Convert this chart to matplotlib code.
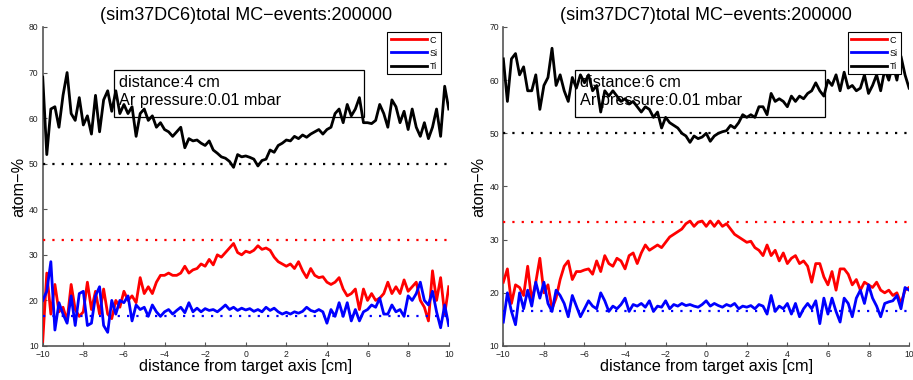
import numpy as np
import matplotlib
matplotlib.use('Agg')
import matplotlib.pyplot as plt
from matplotlib.patches import Rectangle

plt.rcParams['font.family'] = ['Liberation Sans', 'DejaVu Sans']

# target sample, composition (atom-%), x = -10..10 cm step 0.2
titles = ['(sim37DC6)total MC\u2212events:200000', '(sim37DC7)total MC\u2212events:200000']
infos = [['distance:4 cm', 'Ar pressure:0.01 mbar'], ['distance:6 cm', 'Ar pressure:0.01 mbar']]
ylims = [(10, 80), (10, 70)]
stoich = [33.33, 16.67, 50.0]   # C, Si, Ti nominal
names = ['C', 'Si', 'Ti']

c_dc6 = [11, 26, 17, 23.5, 17.5, 18.5, 15.5, 23.5, 18, 16.5,
         17.5, 24, 18, 22, 17, 22.5, 17, 16, 20, 18.5,
         22, 20, 21, 19.5, 25, 21.5, 23, 21.5, 24, 25.5,
         25.5, 26, 25.5, 25.5, 26, 27.5, 26, 26.7, 27, 28,
         27.5, 29, 27.8, 30, 29.5, 30.5, 31.5, 32.5, 30.5, 30,
         30.8, 30.5, 31, 32, 31.2, 31.5, 31, 29.5, 28.5, 28,
         27.5, 28, 27, 28.5, 26.5, 25, 27, 25.5, 25, 25.2,
         24, 23.5, 24, 25, 22.5, 21, 21.5, 22.5, 18, 22.5,
         20, 21.5, 20, 20.5, 21.5, 24, 21.5, 23, 21.5, 24.5,
         22, 23, 24, 20, 18.5, 15.5, 26.5, 20, 25, 17,
         23]
si_dc6 = [20, 22, 28.5, 13.5, 19.5, 17, 15, 21, 14.5, 21.5,
          22, 14.5, 15, 21, 23, 14.5, 13, 20, 17, 20,
          19.5, 21, 15.5, 19, 18, 18.5, 16.5, 19, 17.5, 16.5,
          17.5, 18, 17, 17.8, 18.5, 17.3, 19.5, 17.5, 18.3, 17.5,
          18.2, 17.8, 18, 17.5, 18.2, 19, 18, 18.5, 17.8, 18.3,
          17.9, 18.2, 17.6, 18, 17.5, 18.5, 17.8, 18.3, 17.5, 17,
          17.4, 17, 17.5, 17.2, 17.6, 18.5, 17.8, 17.5, 18, 17.5,
          15, 18, 16.5, 19.5, 16.5, 19.5, 15.5, 18, 15.5, 17.5,
          18, 19, 18.5, 20.5, 17, 17, 19, 17.5, 18, 16.5,
          21, 20, 21.5, 24, 20, 19, 22, 17.5, 14, 19,
          14.5]
ti_dc6 = [69, 52, 62, 62.5, 58, 65, 70, 61, 59.5, 64.5,
          58.5, 60.5, 56.5, 65, 57, 64, 66, 61.5, 66, 61,
          63, 61, 62.5, 56, 61, 62, 59.5, 60.5, 58, 59,
          57.5, 57, 56, 57, 58, 53.5, 55.5, 55, 55.2, 54.5,
          54, 55, 53, 52.3, 51.5, 51.2, 50.5, 49.2, 52, 51.5,
          51.7, 51.4, 51, 49.5, 50.7, 51, 53, 52.5, 54, 54.5,
          55.2, 55, 56, 55.5, 56.3, 55.8, 56.5, 57, 57.5, 56.5,
          57.5, 58, 61, 62, 59, 63, 60.5, 62, 64.5, 59,
          59, 58.8, 59.5, 63, 61, 58, 64, 62.5, 59, 61.5,
          57.5, 62, 58, 56, 59, 55.5, 58, 62, 56, 67,
          62]

c_dc7 = [22, 24.5, 18, 21.5, 21, 19.5, 25, 18.5, 22, 26.5,
         20, 21.5, 17, 19, 22.5, 25, 26, 22.5, 24, 24,
         24.3, 24.5, 23.5, 26, 24, 27, 25.5, 25, 26.5, 26,
         24.5, 27, 27.5, 25.5, 27.5, 29, 28, 28.5, 29, 28.5,
         29.5, 30.5, 31, 31.5, 32, 33, 33.5, 32.5, 33.3, 33.5,
         32.5, 33.5, 32.5, 33.5, 32.5, 33, 32, 31, 30.5, 30,
         29.5, 29.7, 28.5, 28, 27, 29, 27, 28, 26, 27.5,
         25.5, 26.5, 27, 25.5, 26, 25, 22, 25.5, 25.5, 23,
         21.5, 24, 20.5, 24.5, 24.5, 23.5, 21.5, 22.5, 20.5, 22,
         21.5, 21, 22, 20.5, 20, 20.5, 19.5, 20, 18, 20.5,
         21]
si_dc7 = [14.5, 20, 16.5, 14, 20, 17, 20.5, 17.5, 22, 19,
          22, 18, 16.5, 20.5, 19.5, 18, 15.5, 19.5, 17.5, 15.5,
          17, 18.5, 17.5, 17, 20, 18.5, 16.5, 17.5, 17, 17.8,
          19, 16.5, 17.8, 17.5, 18, 17.3, 18.5, 16.5, 17.5, 17.3,
          18.5, 17, 17.8, 17.5, 18, 17.6, 17.8, 17.5, 17.3, 17.8,
          18.5, 17.5, 18, 17.6, 17.3, 17.8, 17.5, 18, 17, 17.5,
          17.3, 17.6, 17, 17.8, 17.5, 16, 19.5, 16.5, 17.5, 17,
          18, 16, 18, 15.5, 17, 18, 17, 18.5, 14.2, 19,
          16, 19, 16.5, 14.5, 19, 18, 15.5, 19, 20.5, 18,
          21.5, 19, 17.5, 15.5, 18, 18.3, 18.5, 19.5, 17, 21,
          20.5]
ti_dc7 = [64, 56, 64, 65, 61, 62.5, 58, 58, 61, 54.5,
          59, 60.5, 66, 59, 61, 58, 56, 60.5, 58.5, 61,
          59.5, 61, 58, 59, 54, 58, 57, 58, 57, 56,
          56.5, 55.5, 56, 55, 54, 55, 54.5, 53, 54, 51,
          53, 52, 51.5, 51, 50, 49.5, 48.3, 49.5, 49, 49.3,
          50, 48.5, 49.5, 50, 50.3, 50.5, 51.5, 51, 52, 53.5,
          53, 53.5, 53, 55, 55, 53.5, 57.5, 56, 56.5, 56,
          55, 57, 56, 57, 56.5, 57.5, 58, 59.5, 58, 57,
          60, 59, 61, 58, 61.5, 58.5, 59, 58, 58.5, 61,
          57.5, 59, 61, 58, 62, 60, 63, 60, 64.5, 61,
          58.5]

data = [[c_dc6, si_dc6, ti_dc6], [c_dc7, si_dc7, ti_dc7]]
colors = ['#ff0000', '#0000ff', 'k']

fig = plt.figure(figsize=(9.13, 3.8), dpi=100)
axes = [fig.add_axes([0.0468, 0.0895, 0.4447, 0.8395]),
        fig.add_axes([0.5513, 0.0895, 0.4444, 0.8395])]

for k in range(2):
    ax = axes[k]
    handles = []
    for vals, col, nm in zip(data[k], colors, names):
        x = np.linspace(-10, 10, len(vals))
        h, = ax.plot(x, vals, color=col, lw=2, label=nm, zorder=3)
        handles.append(h)
    for val, col in zip(stoich, colors):
        ax.plot([-10, 10], [val, val], color=col, lw=1.6, linestyle=(0, (1, 3.2)), zorder=3)

    ax.set_xlim(-10, 10)
    ax.set_ylim(*ylims[k])
    ax.set_xticks(range(-10, 11, 2))
    ax.set_yticks(range(ylims[k][0], ylims[k][1] + 1, 10))
    for s in ['top', 'right']:
        ax.spines[s].set_visible(False)
    for s in ['left', 'bottom']:
        ax.spines[s].set_color('#555555')
        ax.spines[s].set_linewidth(1.2)
    ax.tick_params(direction='in', length=3, width=0.8, labelsize=6.2, colors='#555555',
                   labelcolor='#222222')
    ax.tick_params(axis='x', pad=3)
    ax.tick_params(axis='y', pad=3)
    ax.set_title(titles[k], fontsize=13, pad=5)
    ax.set_xlabel('distance from target axis [cm]', fontsize=11.7, labelpad=0)
    ax.set_ylabel('atom\u2212%', fontsize=11.7, labelpad=2)

    leg = ax.legend(handles=handles, loc='upper right', bbox_to_anchor=(0.98, 0.983),
                    fontsize=6.5, handlelength=4.0, handletextpad=0.3, labelspacing=0.45,
                    borderpad=0.35, borderaxespad=0, fancybox=False, framealpha=1)
    leg.get_frame().set_edgecolor('k')
    leg.get_frame().set_linewidth(0.8)

    ax.add_patch(Rectangle((0.176, 0.718), 0.616, 0.147, transform=ax.transAxes,
                           fill=False, edgecolor='k', lw=0.9, clip_on=False, zorder=1))
    ax.text(0.188, 0.826, infos[k][0], transform=ax.transAxes, fontsize=11.7,
            va='center', ha='left', zorder=1)
    ax.text(0.188, 0.768, infos[k][1], transform=ax.transAxes, fontsize=11.7,
            va='center', ha='left', zorder=1)

fig.savefig('out.png', dpi=100)
